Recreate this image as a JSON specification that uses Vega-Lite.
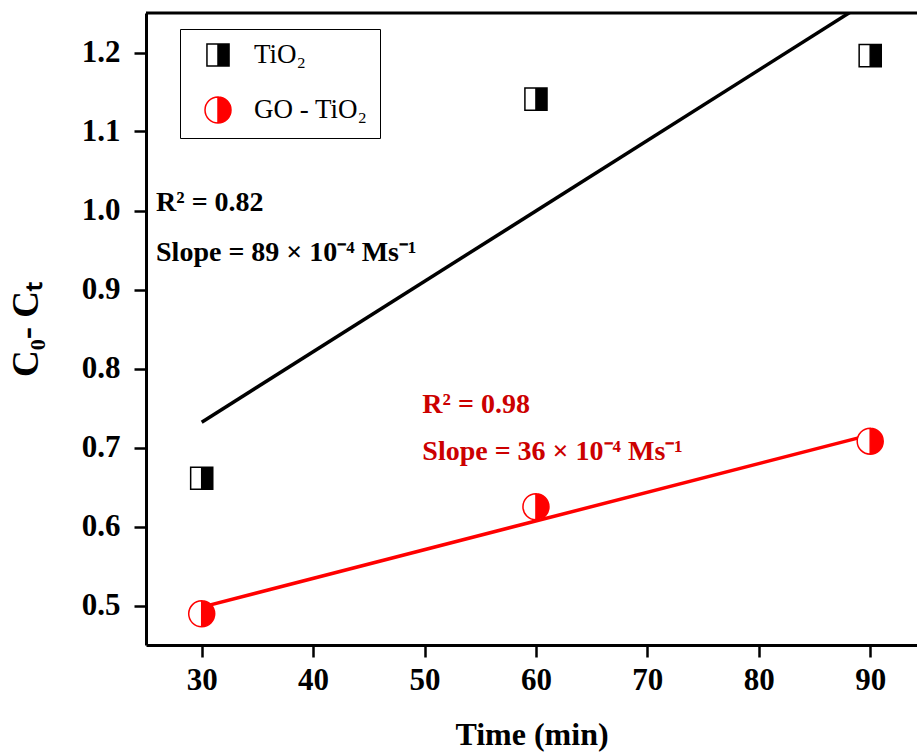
{
  "$schema": "https://vega.github.io/schema/vega-lite/v6.json",
  "width": 771,
  "height": 632,
  "autosize": {"type": "none"},
  "padding": {"left": 146, "top": 13, "right": 0, "bottom": 108},
  "background": "white",
  "config": {
    "view": {"stroke": null},
    "font": "Liberation Serif",
    "axis": {
      "domainColor": "black", "domainWidth": 3, "tickColor": "black", "tickWidth": 2.5, "tickSize": 12,
      "labelFont": "Liberation Serif", "labelFontWeight": "bold", "labelFontSize": 31, "labelColor": "black",
      "titleFont": "Liberation Serif", "titleFontWeight": "bold", "titleFontSize": 32, "titleColor": "black",
      "grid": false
    }
  },
  "datasets": {
    "points": [
      {"series": "TiO₂", "time": 30, "value": 0.661},
      {"series": "TiO₂", "time": 60, "value": 1.141},
      {"series": "TiO₂", "time": 90, "value": 1.196},
      {"series": "GO - TiO₂", "time": 30, "value": 0.4895},
      {"series": "GO - TiO₂", "time": 60, "value": 0.625},
      {"series": "GO - TiO₂", "time": 90, "value": 0.708}
    ],
    "fits": [
      {"series": "TiO₂", "time": 30, "value": 0.732},
      {"series": "TiO₂", "time": 90, "value": 1.267},
      {"series": "GO - TiO₂", "time": 30, "value": 0.498},
      {"series": "GO - TiO₂", "time": 90, "value": 0.716}
    ],
    "notes": [
      {"label": "R² = 0.82", "time": 25.9, "value": 1.009, "group": "TiO₂"},
      {"label": "Slope = 89 × 10⁻⁴ Ms⁻¹", "time": 25.9, "value": 0.946, "group": "TiO₂"},
      {"label": "R² = 0.98", "time": 49.8, "value": 0.754, "group": "GO - TiO₂"},
      {"label": "Slope = 36 × 10⁻⁴ Ms⁻¹", "time": 49.8, "value": 0.694, "group": "GO - TiO₂"}
    ]
  },
  "layer": [
    {
      "data": {"values": [{}]},
      "mark": {"type": "rule", "color": "black", "strokeWidth": 3},
      "encoding": {"y": {"datum": 1.25, "type": "quantitative"}}
    },
    {
      "data": {"name": "fits"},
      "transform": [{"filter": "datum.series == 'TiO₂'"}],
      "mark": {"type": "line", "color": "black", "strokeWidth": 3.5, "clip": true},
      "encoding": {
        "x": {"field": "time", "type": "quantitative"},
        "y": {"field": "value", "type": "quantitative"}
      }
    },
    {
      "data": {"name": "fits"},
      "transform": [{"filter": "datum.series == 'GO - TiO₂'"}],
      "mark": {"type": "line", "color": "#ff0000", "strokeWidth": 3.5, "clip": true},
      "encoding": {
        "x": {"field": "time", "type": "quantitative"},
        "y": {"field": "value", "type": "quantitative"}
      }
    },
    {
      "data": {"name": "points"},
      "transform": [{"filter": "datum.series == 'TiO₂'"}],
      "mark": {"type": "point", "filled": true, "color": "white", "opacity": 1, "size": 676, "shape": "M-0.85,-0.85 L0.85,-0.85 L0.85,0.85 L-0.85,0.85 Z"},
      "encoding": {
        "x": {"field": "time", "type": "quantitative"},
        "y": {"field": "value", "type": "quantitative"}
      }
    },
    {
      "data": {"name": "points"},
      "transform": [{"filter": "datum.series == 'GO - TiO₂'"}],
      "mark": {"type": "point", "filled": true, "color": "white", "opacity": 1, "size": 676, "shape": "M0,-1 A1,1 0 1,1 0,1 A1,1 0 1,1 0,-1 Z"},
      "encoding": {
        "x": {"field": "time", "type": "quantitative"},
        "y": {"field": "value", "type": "quantitative"}
      }
    },
    {
      "data": {"name": "points"},
      "mark": {"type": "point", "filled": true, "opacity": 1, "size": 676, "strokeWidth": 1.5},
      "encoding": {
        "x": {
          "field": "time", "type": "quantitative",
          "scale": {"domain": [25, 94.2], "nice": false, "zero": false},
          "axis": {"values": [30, 40, 50, 60, 70, 80, 90], "title": "Time (min)", "labelPadding": 8, "titlePadding": 24, "labelFlush": false}
        },
        "y": {
          "field": "value", "type": "quantitative",
          "scale": {"domain": [0.45, 1.25], "nice": false, "zero": false},
          "axis": {"values": [0.5, 0.6, 0.7, 0.8, 0.9, 1.0, 1.1, 1.2], "format": ".1f", "title": "C₀- Cₜ", "titleFontSize": 37, "labelPadding": 14, "titlePadding": 36, "labelFlush": false}
        },
        "shape": {
          "field": "series", "type": "nominal",
          "scale": {"domain": ["TiO₂", "GO - TiO₂"], "range": ["M-0.85,-0.85 L0.85,-0.85 L0.85,0.85 L-0.85,0.85 Z M-0.85,-0.85 L-0.85,0.85 L0,0.85 L0,-0.85 Z", "M0,-1 A1,1 0 1,1 0,1 A1,1 0 1,1 0,-1 Z M0,-1 A1,1 0 0,0 0,1 Z"]},
          "legend": {"title": null}
        },
        "fill": {
          "field": "series", "type": "nominal",
          "scale": {"domain": ["TiO₂", "GO - TiO₂"], "range": ["black", "#ff0000"]},
          "legend": {"title": null}
        },
        "stroke": {
          "field": "series", "type": "nominal",
          "scale": {"domain": ["TiO₂", "GO - TiO₂"], "range": ["black", "#ff0000"]},
          "legend": {
            "title": null, "orient": "none", "legendX": 34, "legendY": 16,
            "strokeColor": "black", "fillColor": "white", "padding": 12,
            "symbolSize": 676, "symbolStrokeWidth": 1.5, "symbolOffset": 12, "symbolOpacity": 1,
            "labelFont": "Liberation Serif", "labelFontSize": 27, "labelFontWeight": "normal", "labelColor": "black",
            "labelOffset": 22, "rowPadding": 24, "labelLimit": 300
          }
        }
      }
    },
    {
      "data": {"name": "notes"},
      "transform": [{"filter": "datum.group == 'TiO₂'"}],
      "mark": {"type": "text", "align": "left", "baseline": "middle", "font": "Liberation Serif", "fontWeight": "bold", "fontSize": 28, "color": "black"},
      "encoding": {"x": {"field": "time", "type": "quantitative"}, "y": {"field": "value", "type": "quantitative"}, "text": {"field": "label"}}
    },
    {
      "data": {"name": "notes"},
      "transform": [{"filter": "datum.group == 'GO - TiO₂'"}],
      "mark": {"type": "text", "align": "left", "baseline": "middle", "font": "Liberation Serif", "fontWeight": "bold", "fontSize": 28, "color": "#cc0000"},
      "encoding": {"x": {"field": "time", "type": "quantitative"}, "y": {"field": "value", "type": "quantitative"}, "text": {"field": "label"}}
    }
  ]
}
